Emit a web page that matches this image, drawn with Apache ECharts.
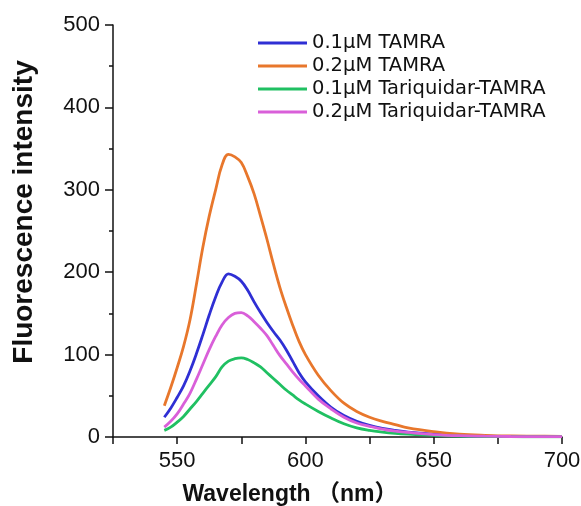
<!DOCTYPE html>
<html>
<head>
<meta charset="utf-8">
<script src="https://cdn.jsdelivr.net/npm/echarts@6/dist/echarts.min.js"></script>
<style>
  html, body { margin: 0; padding: 0; background: #fff; }
  #chart { width: 581px; height: 506px; }
</style>
</head>
<body>
<div id="chart"></div>
<script>
// wavelength (nm)
var wavelength = [545, 547.5, 550, 552.5, 555, 557.5, 560, 562.5, 565, 567.5, 570, 572.5, 575, 577.5, 580, 582.5, 585, 587.5, 590, 592.5, 595, 597.5, 600,
                  605, 610, 615, 620, 625, 630, 635, 640, 650, 660, 670, 680, 690, 700];

var tamra01 = [24, 35, 48, 62, 80, 101, 124, 148, 170, 188, 198, 195, 189, 178, 164, 151, 139, 128, 118, 106, 92, 78, 67,
               50, 36, 26, 19, 14, 10.5, 8, 6, 3.5, 1.8, 1, 0.7, 0.5, 0.4];
var tamra02 = [38, 60, 84, 110, 142, 185, 230, 268, 300, 330, 343, 340, 333, 316, 295, 268, 240, 210, 182, 158, 136, 116, 100,
               75, 56, 41, 31, 24, 19, 15, 11, 6.5, 3.5, 2, 1.2, 1, 0.8];
var tari01 = [8, 12, 18, 25, 34, 43, 53, 63, 73, 85, 92, 95, 96, 94, 90, 85, 78, 71, 64, 57, 51, 45, 40,
              31, 23, 16, 11, 8, 6, 4.5, 3.5, 2, 1, 0.6, 0.4, 0.3, 0.3];
var tari02 = [12, 19, 28, 40, 53, 70, 88, 106, 122, 136, 145, 150, 151, 147, 140, 132, 123, 111, 99, 89, 79, 70, 62,
              46, 34, 24, 17, 13, 9.5, 7, 5.5, 3, 1.6, 1, 0.6, 0.5, 0.4];

var names = ['0.1µM TAMRA', '0.2µM TAMRA', '0.1µM Tariquidar-TAMRA', '0.2µM Tariquidar-TAMRA'];
var colors = ['#2f2fd4', '#e8772c', '#20c062', '#d95fd9'];
var xLabels = [550, 600, 650, 700];

function pairs(ys) {
    return wavelength.map(function (x, i) { return [x, ys[i]]; });
}

var font = 'Liberation Sans, Arial, Noto Sans CJK SC, sans-serif';
var chart = echarts.init(document.getElementById('chart'));

var seriesData = [tamra01, tamra02, tari01, tari02];
var series = [];
seriesData.forEach(function (d, i) {
    series.push({
        name: names[i],
        type: 'line',
        data: pairs(d),
        smooth: 0.4,
        symbol: 'none',
        lineStyle: { width: 2.8, color: colors[i] },
        itemStyle: { color: colors[i] }
    });
});

chart.setOption({
    animation: false,
    backgroundColor: '#fff',
    grid: { left: 113, right: 19, top: 25, bottom: 69, containLabel: false, outerBoundsMode: 'none' },
    legend: {
        orient: 'vertical',
        left: 253,
        top: 27,
        icon: 'rect',
        itemWidth: 49,
        itemHeight: 3,
        itemGap: 1,
        data: names,
        textStyle: { fontFamily: 'DejaVu Sans, sans-serif', fontSize: 19.5, lineHeight: 22, color: '#111' }
    },
    xAxis: {
        type: 'value',
        min: 525,
        max: 700,
        interval: 25,
        name: 'Wavelength （nm）',
        nameLocation: 'middle',
        nameGap: 46,
        nameTextStyle: { fontFamily: font, fontSize: 23, fontWeight: 'bold', color: '#111', padding: [0, 95, 0, 0] },
        axisLine: { show: true, lineStyle: { color: '#111', width: 1.5 } },
        axisTick: { show: true, inside: false, length: 7, lineStyle: { color: '#111', width: 1.5 } },
        axisLabel: {
            fontFamily: font, fontSize: 22, color: '#111', margin: 13,
            customValues: xLabels
        },
        splitLine: { show: false }
    },
    yAxis: {
        type: 'value',
        min: 0,
        max: 500,
        interval: 100,
        name: 'Fluorescence intensity',
        nameLocation: 'middle',
        nameGap: 75,
        nameTextStyle: { fontFamily: font, fontSize: 28, fontWeight: 'bold', color: '#111', padding: [0, 0, 0, 38] },
        axisLine: { show: true, lineStyle: { color: '#111', width: 1.5 } },
        axisTick: { show: true, inside: false, length: 8, lineStyle: { color: '#111', width: 1.5 } },
        minorTick: { show: true, splitNumber: 2, length: 4, lineStyle: { color: '#111', width: 1.5 } },
        axisLabel: { fontFamily: font, fontSize: 22, color: '#111', margin: 13 },
        splitLine: { show: false }
    },
    series: series
});
</script>
</body>
</html>
